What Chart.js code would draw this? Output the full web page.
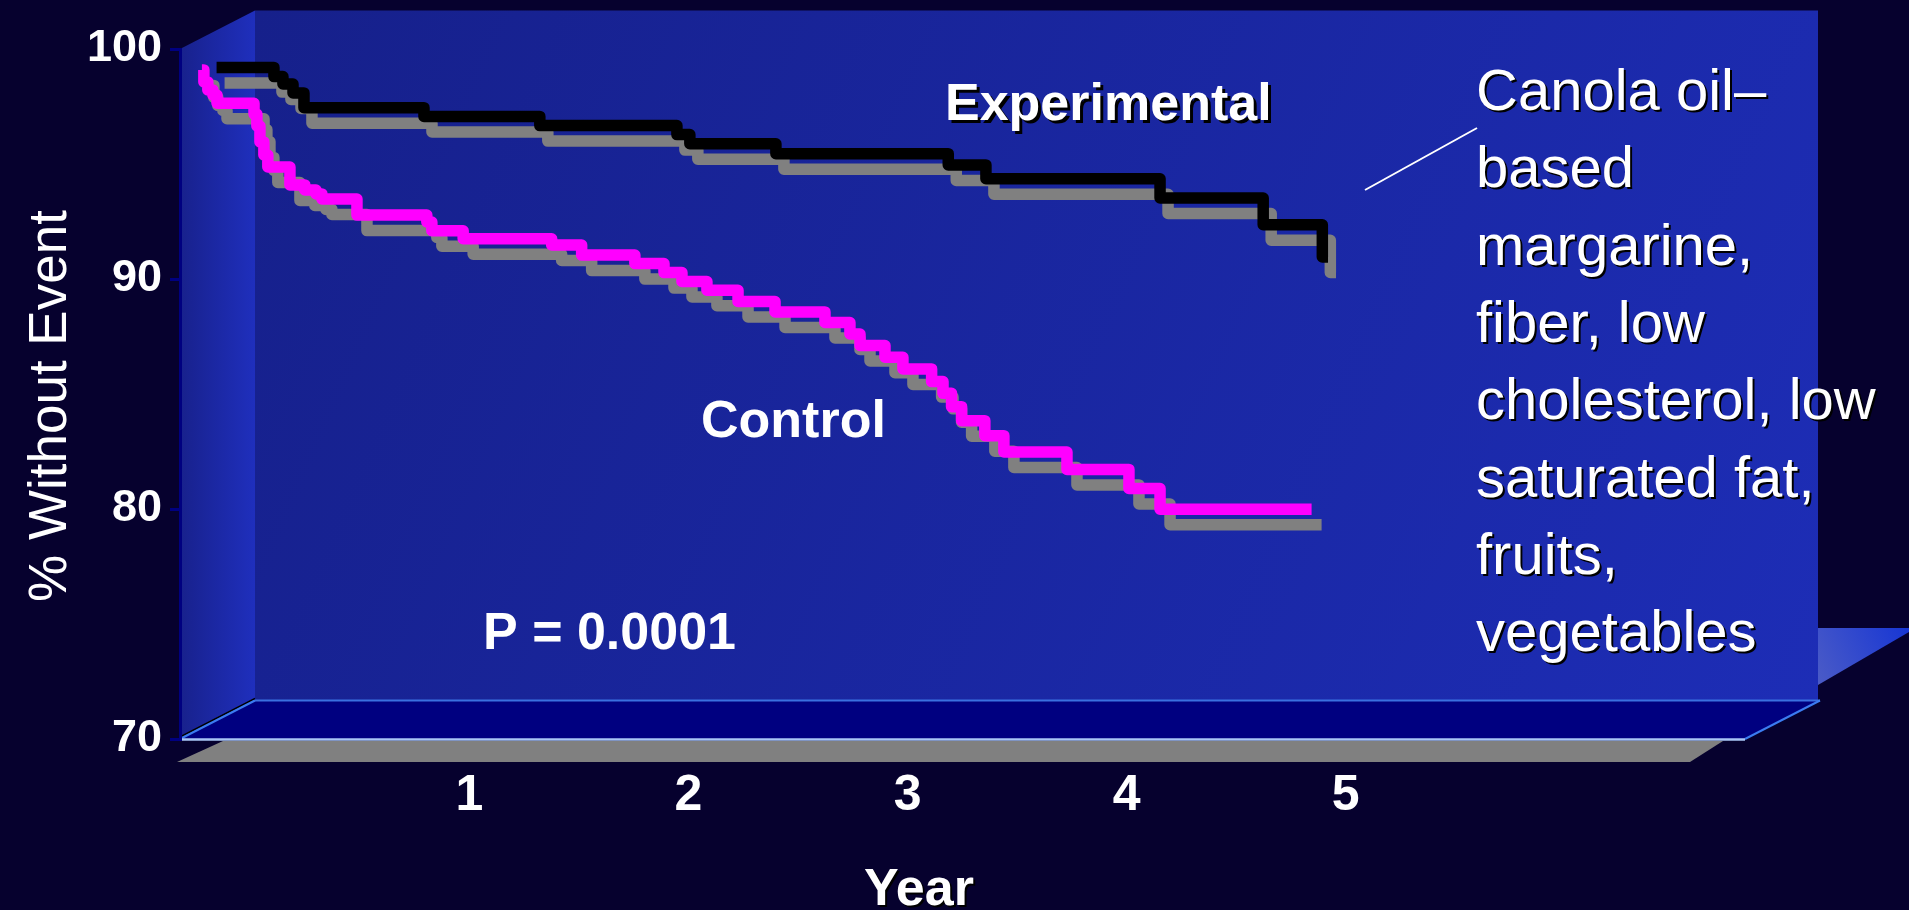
<!DOCTYPE html>
<html>
<head>
<meta charset="utf-8">
<title>Percent without event by year</title>
<script src="https://cdn.jsdelivr.net/npm/chart.js@4/dist/chart.umd.min.js"></script>
<style>
  html, body { margin: 0; padding: 0; background: #06012e; overflow: hidden; }
  canvas { display: block; }
</style>
</head>
<body>
<canvas id="chart" width="1909" height="910"></canvas>
<script>
// Axis tick values
const yearTicks = [1, 2, 3, 4, 5];
const pctTicks = [70, 80, 90, 100];

// Experimental diet arm: year at which each drop happens, and % without event after it
const experimentalYears = [-0.155, 0.107, 0.148, 0.194, 0.244, 0.792, 1.321, 1.947, 2.006, 2.399, 3.186, 3.358, 4.153, 4.624, 4.894, 4.920];
const experimentalPct   = [99.20, 98.80, 98.48, 98.09, 97.45, 97.07, 96.67, 96.28, 95.88, 95.45, 94.96, 94.36, 93.52, 92.36, 90.96, 90.96];

// Control arm
const controlYears = [-0.222, -0.213, -0.195, -0.172, -0.153, 0.016, 0.029, 0.043, 0.061, 0.079, 0.180, 0.248, 0.299, 0.326,
                      0.486, 0.805, 0.828, 0.971, 1.375, 1.512, 1.755, 1.888, 1.970, 2.084, 2.226, 2.395, 2.623, 2.737,
                      2.783, 2.897, 2.979, 3.110, 3.162, 3.201, 3.247, 3.353, 3.440, 3.728, 4.011, 4.153, 4.845];
const controlPct   = [99.09, 98.57, 98.22, 98.00, 97.64, 97.17, 96.65, 95.96, 95.39, 94.87, 94.09, 93.87, 93.70, 93.48,
                      92.78, 92.48, 92.10, 91.75, 91.48, 91.04, 90.67, 90.28, 89.89, 89.51, 89.02, 88.57, 88.11, 87.61,
                      87.11, 86.60, 86.09, 85.54, 85.03, 84.45, 83.84, 83.19, 82.48, 81.72, 80.89, 79.99, 79.99];

// Text drawn on the plot
const seriesNames = ['Experimental', 'Control'];
const pValueText = 'P = 0.0001';
const xAxisTitle = 'Year';
const yAxisTitle = '% Without Event';
const dietNote = ['Canola oil\u2013', 'based', 'margarine,', 'fiber, low', 'cholesterol, low', 'saturated fat,', 'fruits,', 'vegetables'];

const FONT = '"Liberation Sans", Arial, Helvetica, sans-serif';
const DEPTH = { dx: 75, dy: -38.5 };   // perspective offset of the back wall

function toPoints(xs, ys) { return xs.map((x, i) => ({ x: x, y: ys[i] })); }

function fillPoly(ctx, pts, style) {
  ctx.beginPath();
  pts.forEach((p, i) => i ? ctx.lineTo(p[0], p[1]) : ctx.moveTo(p[0], p[1]));
  ctx.closePath();
  ctx.fillStyle = style;
  ctx.fill();
}
function strokeLine(ctx, x1, y1, x2, y2, color, w) {
  ctx.beginPath();
  ctx.moveTo(x1, y1); ctx.lineTo(x2, y2);
  ctx.strokeStyle = color; ctx.lineWidth = w;
  ctx.stroke();
}

// Box-style backdrop: back wall, side wall, floor and its shadow
const stagePlugin = {
  id: 'stage3d',
  beforeDraw(chart) {
    const { ctx, width, height, chartArea: a } = chart;
    const bx = a.left + DEPTH.dx, by = a.top + DEPTH.dy;
    const br = a.right + DEPTH.dx, bb = a.bottom + DEPTH.dy;
    ctx.save();
    ctx.fillStyle = '#06012e';
    ctx.fillRect(0, 0, width, height);

    // ledge behind the right end
    let g = ctx.createLinearGradient(width, bb - 72, br - 40, bb - 10);
    g.addColorStop(0, '#1736d4');
    g.addColorStop(1, '#5d68c2');
    fillPoly(ctx, [[br - 2, bb - 72.5], [width, bb - 72.5], [width, bb - 68.5], [br - 2, bb - 15.5]], g);

    // back wall
    g = ctx.createLinearGradient(bx, by, br, bb);
    g.addColorStop(0, '#16208b');
    g.addColorStop(1, '#1d2db6');
    ctx.fillStyle = g;
    ctx.fillRect(bx, by, br - bx - 2, bb - by);

    // left wall
    g = ctx.createLinearGradient(a.left, 0, bx, 0);
    g.addColorStop(0, '#18218c');
    g.addColorStop(1, '#1f2fbd');
    fillPoly(ctx, [[a.left, a.top], [bx, by], [bx, bb], [a.left, a.bottom]], g);

    // floor
    fillPoly(ctx, [[a.left, a.bottom], [bx, bb], [br, bb], [a.right, a.bottom]], '#000080');

    // shadow band under the floor
    fillPoly(ctx, [[a.left - 3, a.bottom + 23], [a.left + 43, a.bottom + 2],
                   [a.right - 22, a.bottom + 2], [a.right - 55, a.bottom + 23]], '#808080');

    // floor edges
    strokeLine(ctx, a.left, a.bottom - 2, bx, bb - 2, '#000000', 1.5);
    strokeLine(ctx, a.left, a.bottom, bx, bb, '#3b7cf0', 2);
    strokeLine(ctx, bx, bb, br, bb, '#3a70e0', 2);
    strokeLine(ctx, a.right, a.bottom, br, bb, '#3b7cf0', 2);
    strokeLine(ctx, a.left, a.bottom + 0.5, a.right, a.bottom + 0.5, '#a8c6f6', 2.5);
    ctx.restore();
  }
};

// Flat grey drop shadow beneath each curve
const curveShadowPlugin = {
  id: 'curveShadow',
  beforeDatasetDraw(chart, args) {
    const ds = chart.data.datasets[args.index];
    const ctx = chart.ctx;
    ctx.save();
    ctx.shadowColor = '#808080';
    ctx.shadowBlur = 0;
    ctx.shadowOffsetX = ds.shadowShift[0];
    ctx.shadowOffsetY = ds.shadowShift[1];
  },
  afterDatasetDraw(chart) {
    chart.ctx.restore();
  }
};

function shadowText(ctx, text, x, y, off) {
  ctx.save();
  if (off) {
    ctx.shadowColor = '#000000';
    ctx.shadowBlur = 0;
    ctx.shadowOffsetX = off;
    ctx.shadowOffsetY = off;
  }
  ctx.fillText(text, x, y);
  ctx.restore();
}

// Series names, p value, axis captions and the diet note
const notesPlugin = {
  id: 'notes',
  afterDraw(chart) {
    const ctx = chart.ctx;
    ctx.save();
    ctx.fillStyle = '#ffffff';
    ctx.textBaseline = 'alphabetic';
    ctx.textAlign = 'left';

    ctx.font = 'bold 52px ' + FONT;
    shadowText(ctx, seriesNames[0], 945, 120, 3);
    shadowText(ctx, seriesNames[1], 701, 437, 0);
    shadowText(ctx, pValueText, 483, 649, 0);

    ctx.textAlign = 'center';
    shadowText(ctx, xAxisTitle, 919, 905, 2);

    // vertical caption of the value axis
    ctx.save();
    ctx.translate(66, 406);
    ctx.rotate(-Math.PI / 2);
    ctx.font = '53px ' + FONT;
    ctx.fillText(yAxisTitle, 0, 0);
    ctx.restore();

    ctx.textAlign = 'left';
    ctx.font = '58px ' + FONT;
    dietNote.forEach((line, i) => shadowText(ctx, line, 1476, 110 + i * 77.3, 2));

    strokeLine(ctx, 1365, 190, 1477, 128, '#ffffff', 2);
    ctx.restore();
  }
};

new Chart(document.getElementById('chart'), {
  type: 'line',
  data: {
    datasets: [
      {
        label: seriesNames[0],
        data: toPoints(experimentalYears, experimentalPct),
        borderColor: '#000000',
        borderWidth: 11.5,
        stepped: 'before',
        borderJoinStyle: 'round',
        pointRadius: 0,
        fill: false,
        shadowShift: [8, 15.5]
      },
      {
        label: seriesNames[1],
        data: toPoints(controlYears, controlPct),
        borderColor: '#ff00ff',
        borderWidth: 11.5,
        stepped: 'before',
        borderJoinStyle: 'round',
        pointRadius: 0,
        fill: false,
        shadowShift: [10, 15.5]
      }
    ]
  },
  options: {
    responsive: false,
    devicePixelRatio: 1,
    animation: false,
    layout: { padding: { top: 49, right: 164, left: 0, bottom: 0 } },
    plugins: { legend: { display: false }, tooltip: { enabled: false } },
    scales: {
      x: {
        type: 'linear',
        min: -0.322,
        max: 6.824,
        afterBuildTicks: s => { s.ticks = yearTicks.map(v => ({ value: v })); },
        afterFit: s => { s.height = 171; },
        ticks: {
          color: '#ffffff',
          font: { family: FONT, size: 50, weight: 'bold' },
          padding: 27,
          maxRotation: 0,
          autoSkip: false
        },
        grid: { display: false, drawTicks: false },
        border: { display: false }
      },
      y: {
        min: 70,
        max: 100,
        afterBuildTicks: s => { s.ticks = pctTicks.map(v => ({ value: v })); },
        afterFit: s => { s.width = 180; },
        ticks: {
          color: '#ffffff',
          font: { family: FONT, size: 45, weight: 'bold' },
          padding: 8
        },
        grid: { drawOnChartArea: false, color: '#000080', lineWidth: 3, tickLength: 10 },
        border: { color: '#000080', width: 3 }
      }
    }
  },
  plugins: [stagePlugin, curveShadowPlugin, notesPlugin]
});
</script>
</body>
</html>
